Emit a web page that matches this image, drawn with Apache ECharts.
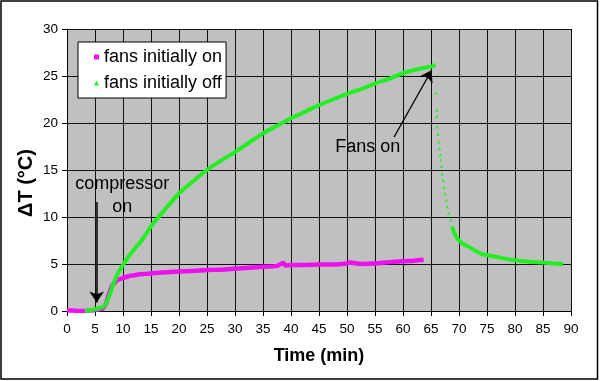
<!DOCTYPE html>
<html>
<head>
<meta charset="utf-8">
<script src="https://cdn.jsdelivr.net/npm/echarts@6/dist/echarts.min.js"></script>
<style>html,body{margin:0;padding:0;background:#fff}#c{width:600px;height:381px}</style>
</head>
<body>
<div id="c"></div>
<script>
// ---- data ----
var xTicks = [0,5,10,15,20,25,30,35,40,45,50,55,60,65,70,75,80,85,90];
var yTicks = [0,5,10,15,20,25,30];

var onTime = [0,1,2,3,4,5,6,6.5,7,7.5,8,8.5,9,10,11,12,13,14,15,17,20,22.5,25,27.5,30,32.5,35,37.5,38.6,39,40,42.5,45,47.5,50,50.5,52.5,55,57.5,60,62,63.7];
var onVal  = [0.05,0.05,0,0,0.05,0.1,0.2,0.35,0.8,1.8,2.6,3.0,3.3,3.5,3.7,3.8,3.9,3.95,4.0,4.1,4.2,4.25,4.35,4.4,4.5,4.6,4.7,4.8,5.1,4.85,4.9,4.9,4.95,4.95,5.05,5.15,5.0,5.05,5.2,5.3,5.35,5.45];

var offTimeA = [3.2,4,5,6,6.5,7,7.5,8,8.5,9,10,11,12,13.4,15,17.5,20,22.5,25,27.5,30,32.5,35,37.5,40,42.5,45,47.5,50,52.5,55,57.5,60,62.5,64,65,65.8];
var offValA  = [0,0.05,0.2,0.35,0.45,0.8,1.5,2.4,3.2,3.9,4.9,5.8,6.55,7.55,9.0,10.8,12.5,13.8,15.0,16.0,16.9,17.9,18.9,19.7,20.5,21.2,21.9,22.5,23.1,23.6,24.2,24.7,25.3,25.7,25.9,26.0,26.2];

var offTimeDrop = [65.95,66.0,66.05,66.1,66.25,66.4,66.55,66.65,66.75,66.9,67.0,67.2,67.3,67.5,67.75,67.9,68.2,68.5];
var offValDrop  = [23.2,21.4,20.7,19.6,18.8,18.0,17.3,16.6,16.1,15.4,14.6,13.9,13.2,12.5,11.8,11.1,10.4,9.7];

var offTimeB = [68.8,69.1,69.7,70.6,72.1,73.9,75,77.5,80,82.5,85,87,88.6];
var offValB  = [9.0,8.4,7.7,7.2,6.7,6.1,5.95,5.65,5.4,5.25,5.15,5.05,5.0];

var seriesNames = ['fans initially on','fans initially off'];
var xTitle = 'Time (min)';
var yTitle = '\u0394T (\u00B0C)';
var arrowCompressor = [[5.3,11.6],[5.3,0.9]];
var arrowFans = [[58.4,18.5],[65.1,25.6]];
var noteCompressor = {text:'compressor\non', at:[9.85,12.3]};
var noteFans = {text:'Fans on', at:[53.7,17.45]};

// ---- build ----
function pairs(t,v){ return t.map(function(x,i){return [x,v[i]];}); }
var offLine = pairs(offTimeA,offValA).concat(['-']).concat(pairs(offTimeB,offValB));

var FONT = 'Arial, "Liberation Sans", sans-serif';
var MAG = '#ee11ee', GRN = '#22ee22';

var chart = echarts.init(document.getElementById('c'), null, {renderer:'canvas'});
chart.setOption({
  backgroundColor:'#ffffff',
  animation:false,
  textStyle:{fontFamily:FONT},
  grid:{left:67,right:29,top:29,bottom:70,show:true,backgroundColor:'#c0c0c0',borderWidth:0},
  legend:{
    left:78, top:42, orient:'vertical',
    backgroundColor:'#ffffff', borderColor:'#000', borderWidth:1,
    padding:[5,4,5,16], itemGap:6, itemWidth:5, itemHeight:5,
    textStyle:{fontSize:18, color:'#000', fontFamily:FONT, lineHeight:20},
    data:[{name:seriesNames[0], icon:'rect', itemStyle:{color:MAG}},
          {name:seriesNames[1], icon:'triangle', itemStyle:{color:GRN}}]
  },
  xAxis:{
    type:'value', min:xTicks[0], max:xTicks[xTicks.length-1], interval:xTicks[1]-xTicks[0],
    name:xTitle, nameLocation:'middle', nameGap:36,
    nameTextStyle:{fontSize:18, fontWeight:'bold', color:'#000', fontFamily:FONT},
    axisLine:{show:true, onZero:false, lineStyle:{color:'#000', width:1}},
    axisTick:{show:true, inside:false, length:5, lineStyle:{color:'#000'}},
    axisLabel:{fontSize:13.5, color:'#000', margin:11, fontFamily:FONT},
    splitLine:{show:true, lineStyle:{color:'#111', width:1}}
  },
  yAxis:{
    type:'value', min:yTicks[0], max:yTicks[yTicks.length-1], interval:yTicks[1]-yTicks[0],
    axisLine:{show:true, lineStyle:{color:'#000', width:1}},
    axisTick:{show:true, inside:false, length:5, lineStyle:{color:'#000'}},
    axisLabel:{fontSize:13.5, color:'#000', margin:9, fontFamily:FONT},
    splitLine:{show:true, lineStyle:{color:'#111', width:1}}
  },
  series:[
    {name:seriesNames[0], type:'line', data:pairs(onTime,onVal), showSymbol:false, smooth:0.3,
     lineStyle:{color:MAG, width:4.5}, itemStyle:{color:MAG}, z:3},
    {name:seriesNames[1], type:'line', data:offLine, showSymbol:false, smooth:0.3, connectNulls:false,
     lineStyle:{color:GRN, width:4}, itemStyle:{color:GRN}, z:4},
    {name:seriesNames[1], type:'scatter', data:pairs(offTimeDrop,offValDrop), symbol:'triangle', symbolSize:3.5,
     itemStyle:{color:GRN}, z:4},
    {name:'annot', type:'line', data:[], z:6,
     markLine:{silent:true, symbol:['none','arrow'], symbolSize:11, animation:false,
       label:{show:false},
       data:[
         [{coord:arrowCompressor[0], lineStyle:{color:'#000', width:1.5, type:'solid'}, itemStyle:{color:'#000'}}, {coord:arrowCompressor[1]}],
         [{coord:arrowFans[0], lineStyle:{color:'#000', width:1.2, type:'solid'}, itemStyle:{color:'#000'}}, {coord:arrowFans[1]}]
       ]}}
  ]
});

function addNotes(){
  var g = [];
  [noteCompressor, noteFans].forEach(function(n){
    var p = chart.convertToPixel({gridIndex:0}, n.at);
    g.push({type:'text', x:p[0], y:p[1], z:10,
      style:{text:n.text, fill:'#000', font:'18px ' + FONT, align:'center', verticalAlign:'middle', lineHeight:23}});
  });
  g.push({type:'text', x:26, y:183, rotation:Math.PI/2, z:10,
    style:{text:yTitle, fill:'#000', font:'bold 20px ' + FONT, align:'center', verticalAlign:'middle'}});
  g.push({type:'rect', shape:{x:1, y:1, width:596.5, height:378}, z:20,
    style:{fill:'none', stroke:'#000', lineWidth:1.5}});
  chart.setOption({graphic:g});
}
addNotes();
</script>
</body>
</html>
